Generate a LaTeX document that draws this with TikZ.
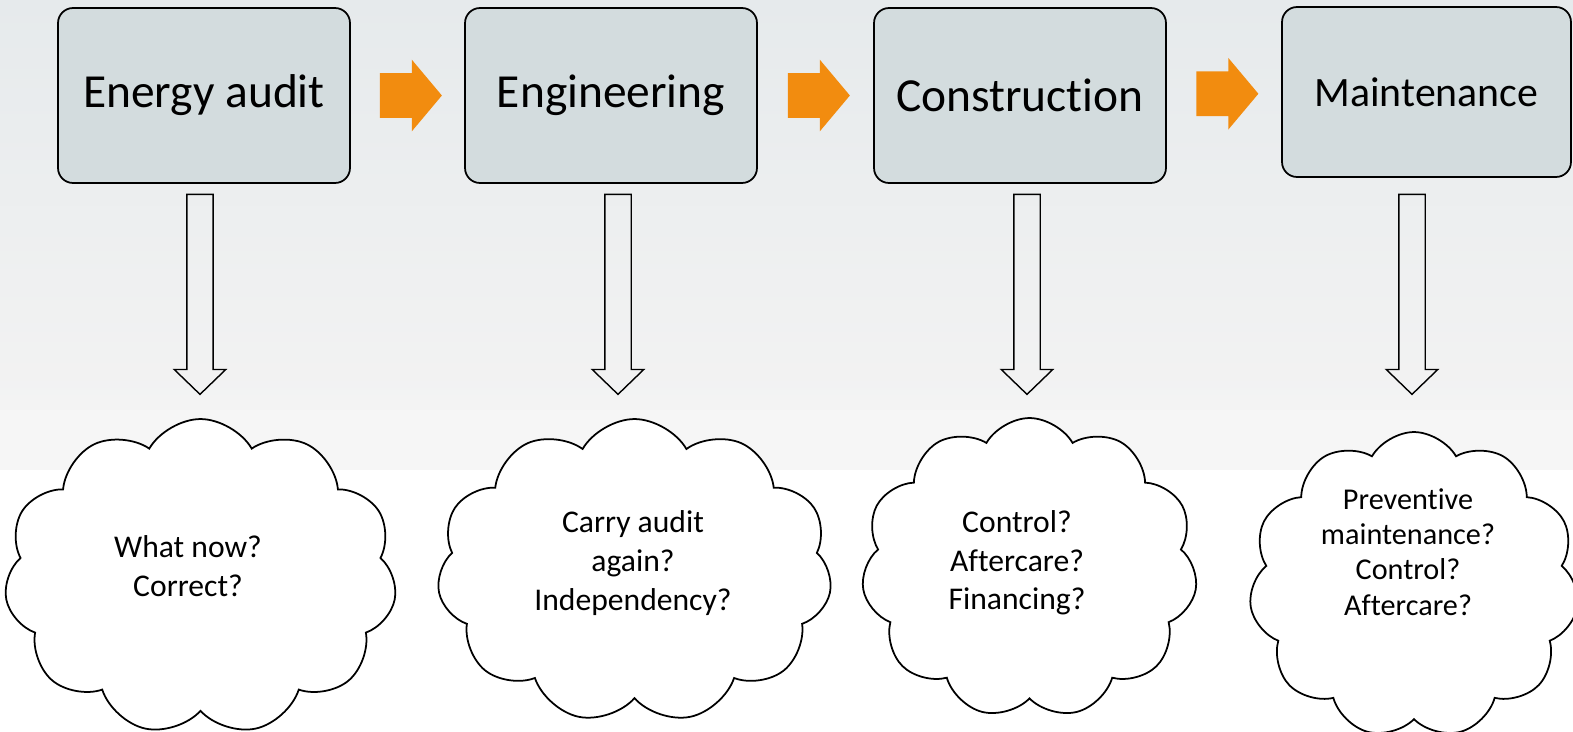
\documentclass[tikz,border=0pt]{standalone}
\usepackage{fontspec}
\setmainfont{Carlito}[Ligatures=NoCommon]
\usetikzlibrary{shapes.symbols,shapes.arrows,calc}

\definecolor{bgtop}{HTML}{E6EAEC}
\definecolor{bgbot}{HTML}{F3F3F3}
\definecolor{bgband}{HTML}{F6F6F6}
\definecolor{boxfill}{HTML}{D3DCDE}
\definecolor{flow}{HTML}{F28C0F}

\tikzset{
  stagebox/.style={draw, line width=1pt, fill=boxfill, rounded corners=0.3cm,
    minimum width=5.84cm, minimum height=3.5cm, font=\fontsize{27}{32}\selectfont},
  flowarrow/.style={single arrow, fill=flow, inner xsep=0pt, inner ysep=0.44cm,
    single arrow head extend=0.27cm, single arrow tip angle=100, minimum height=1.24cm,
    xshift=-0.12cm},
  downarrow/.style={single arrow, draw, line width=0.8pt, rotate=-90, inner xsep=0pt,
    inner ysep=0.25cm, single arrow head extend=0.25cm, single arrow tip angle=92,
    minimum height=4cm},
  issuecloud/.style={cloud, draw, line width=1pt, fill=white, cloud puffs=11,
    cloud puff arc=120, cloud ignores aspect},
  cloudtext/.style={align=center, font=\fontsize{18}{22}\selectfont}
}

\begin{document}
\begin{tikzpicture}[x=0.02cm, y=-0.02cm]

  % Units are reference pixels, y downward (1573 x 731)
  %  Boxes  : y    8 - 183
  %  Arrows : y  192 - 392
  %  Clouds : y ~415 - 730
  \useasboundingbox (0,0) rectangle (1573,731);

  % Background
  \shade[top color=bgtop, bottom color=bgbot] (0,0) rectangle (1573,410);
  \fill[bgband] (0,410) rectangle (1573,470);
  \fill[white]  (0,470) rectangle (1573,731);

  % Stages
  \node[stagebox] (audit)        at ( 204,  95.5) {Energy audit};
  \node[stagebox] (engineering)  at ( 611,  95.5) {Engineering};
  \node[stagebox] (construction) at (1020,  95.5) {Construct\kern0pt ion};
  \node[stagebox, minimum width=5.78cm, minimum height=3.4cm,
        font=\fontsize{23.8}{28}\selectfont] (maintenance) at (1426.5, 92) {Maintenance};

  % Flow arrows between stages
  \node[flowarrow] (fa1) at ($(audit.east)!0.5!(engineering.west)$) {};
  \node[flowarrow] (fa2) at ($(engineering.east)!0.5!(construction.west)$) {};
  \node[flowarrow] (fa3) at ($(construction.east)!0.5!(maintenance.west)$) {};

  % Hollow arrows down to the questions
  \node[downarrow] (da1) at ( 200, 288) {};
  \node[downarrow] (da2) at ( 618, 288) {};
  \node[downarrow] (da3) at (1027, 288) {};
  \node[downarrow] (da4) at (1412, 288) {};

  % Question clouds
  \node[issuecloud, minimum width=7.85cm, minimum height=6.32cm] (qaudit)        at ( 200.5, 577) {};
  \node[issuecloud, minimum width=7.9cm,  minimum height=6.08cm] (qengineering)  at ( 634.5, 571) {};
  \node[issuecloud, minimum width=6.72cm, minimum height=6.0cm]  (qconstruction) at (1029.5, 568) {};
  \node[issuecloud, minimum width=6.6cm,  minimum height=6.12cm] (qmaintenance)  at (1414,  585) {};

  % Questions
  \node[cloudtext] (taudit)        at ( 188, 566) {What now?\\Correct?};
  \node[cloudtext] (tengineering)  at ( 633, 563) {Carry audit\\again?\\Independency?};
  \node[cloudtext] (tconstruction) at (1017, 563) {Control?\\Aftercare?\\Financing?};
  \node[cloudtext, font=\fontsize{17.2}{20}\selectfont] (tmaintenance) at (1408, 552)
    {Prevent\kern0pt ive\\maintenance?\\Control?\\Aftercare?};

\end{tikzpicture}
\end{document}
